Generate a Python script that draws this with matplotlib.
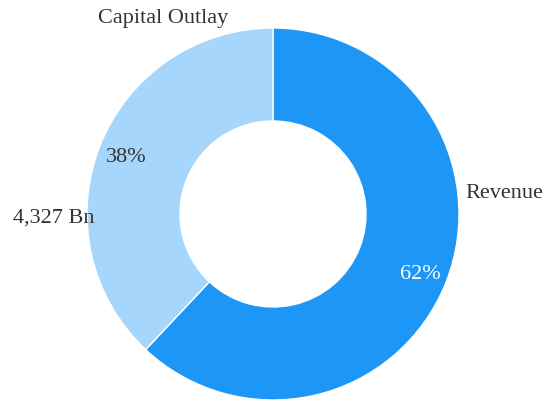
import numpy as np
import matplotlib.pyplot as plt

plt.rcParams['font.family'] = ['Liberation Serif', 'DejaVu Serif']

labels = ["Revenue", "Capital Outlay"]
shares = [62, 38]
colors = ["#1E96F6", "#A6D6FC"]
outlay_value = "4,327 Bn"

W, H = 544, 403
fig = plt.figure(figsize=(W / 100, H / 100), dpi=100)
ax = fig.add_axes([0, 0, 1, 1])

cx, cy, r = 273, H - 214, 186
wedges, _ = ax.pie(shares, colors=colors, startangle=90, counterclock=False,
                   center=(cx, cy), radius=r,
                   wedgeprops=dict(width=r * 0.5, edgecolor="white", linewidth=1))

fs = 16
txt = "#333333"

# percentage labels at the middle of each slice
start = 90
for val, col in zip(shares, ["white", txt]):
    mid = np.deg2rad(start - val * 3.6 / 2)
    ax.text(cx + 0.85 * r * np.cos(mid), cy + 0.85 * r * np.sin(mid) - 2, f"{val}%",
            ha="center", va="center", fontsize=fs, color=col)
    start -= val * 3.6

# category names outside the ring
ax.text(cx + 1.25 * r * np.cos(np.deg2rad(5)), cy + 1.25 * r * np.sin(np.deg2rad(5)),
        labels[0], ha="center", va="center", fontsize=fs, color=txt)
ax.text(cx + 1.22 * r * np.cos(np.deg2rad(119)), cy + 1.22 * r * np.sin(np.deg2rad(119)) - 3,
        labels[1], ha="center", va="center", fontsize=fs, color=txt)
ax.text(cx - 1.18 * r, cy - 4, outlay_value,
        ha="center", va="center", fontsize=fs, color=txt)

ax.set_xlim(0, W)
ax.set_ylim(0, H)
ax.set_aspect("equal")
ax.axis("off")

fig.savefig("out.png", dpi=100)
